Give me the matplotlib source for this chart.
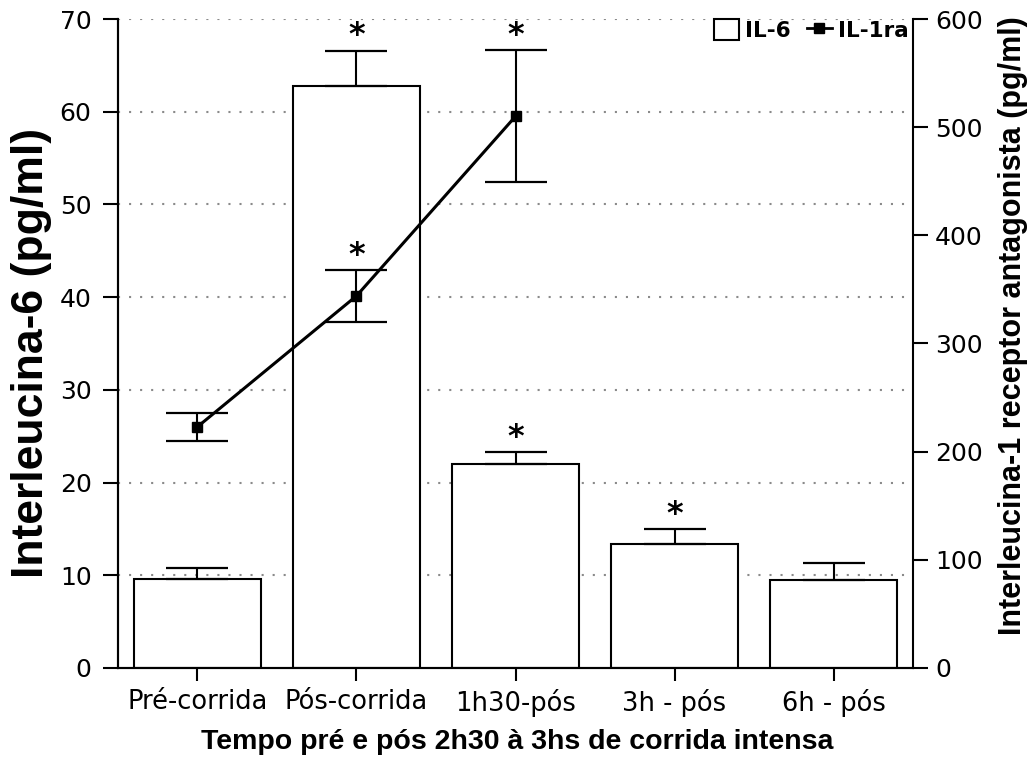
import numpy as np
import matplotlib
matplotlib.use('Agg')
import matplotlib.pyplot as plt
from matplotlib.patches import Patch
from matplotlib.lines import Line2D

categories = ['Pré-corrida', 'Pós-corrida', '1h30-pós', '3h - pós', '6h - pós']
il6 = [9.6, 62.8, 22.0, 13.4, 9.5]
il6_err = [1.2, 3.8, 1.3, 1.6, 1.8]
il6_signif = [False, True, True, True, False]

il1ra = [223, 344, 510]
il1ra_err = [13, 24, 61]
il1ra_signif = [False, True, True]

x = np.arange(len(categories))
x_line = x[:len(il1ra)]

plt.rcParams['font.family'] = 'DejaVu Sans'
fig = plt.figure(figsize=(10.34, 7.57), dpi=100)
ax = fig.add_axes([0.1141, 0.1176, 0.7689, 0.8573])
ax2 = ax.twinx()

# dotted grid on the left scale
for v in range(10, 71, 10):
    ax.axhline(v, color='#8a8a8a', lw=1.5, ls=(0, (1, 4.3)), zorder=0)

ax.bar(x, il6, width=0.8, color='white', edgecolor='black', linewidth=1.5, zorder=2)
ax.errorbar(x, il6, yerr=[np.zeros(len(il6)), il6_err], fmt='none', ecolor='black',
            elinewidth=1.5, capsize=22, capthick=1.6, zorder=3)
for xi, top, s in zip(x, np.array(il6) + np.array(il6_err), il6_signif):
    if s:
        ax.annotate('*', xy=(xi, top), xytext=(0, 4.5), textcoords='offset points',
                    ha='center', va='baseline', fontsize=23, fontweight='bold')

ax2.errorbar(x_line, il1ra, yerr=il1ra_err, fmt='-s', color='black', lw=2.2, ms=7,
             elinewidth=1.5, capsize=22, capthick=1.6)
for xi, top, s in zip(x_line, np.array(il1ra) + np.array(il1ra_err), il1ra_signif):
    if s:
        ax2.annotate('*', xy=(xi, top), xytext=(0, 4.5), textcoords='offset points',
                     ha='center', va='baseline', fontsize=23, fontweight='bold')

ax.set_xlim(-0.5, 4.5)
ax.set_ylim(0, 70)
ax2.set_ylim(0, 600)
ax.set_yticks(range(0, 71, 10))
ax2.set_yticks(range(0, 601, 100))
ax.set_xticks(x)
ax.set_xticklabels(categories, fontsize=18.5)

for a in (ax, ax2):
    a.spines['top'].set_visible(False)
    for sp in a.spines.values():
        sp.set_linewidth(1.5)
ax.spines['right'].set_visible(False)
ax.tick_params(axis='y', direction='out', length=11, width=1.5, pad=8, labelsize=18)
ax.tick_params(axis='x', direction='out', length=9, width=1.5, pad=6)
ax2.tick_params(axis='y', direction='out', length=11, width=1.5, pad=5, labelsize=18)

fig.text(0.0306, 0.5337, 'Interleucina-6 (pg/ml)', rotation=90, ha='center', va='center',
         fontsize=32, fontweight='bold', family='Liberation Sans')
fig.text(0.9797, 0.5694, 'Interleucina-1 receptor antagonista (pg/ml)', rotation=90,
         ha='center', va='center', fontsize=22, fontweight='bold', family='Liberation Sans')
fig.text(0.5, 0.0106, 'Tempo pré e pós 2h30 à 3hs de corrida intensa', ha='center',
         va='baseline', fontsize=20.5, fontweight='bold', family='Liberation Sans')

handles = [Patch(facecolor='white', edgecolor='black', linewidth=1.5),
           Line2D([], [], color='black', lw=2, marker='s', ms=7)]
ax2.legend(handles, ['IL-6', 'IL-1ra'], loc='upper right', bbox_to_anchor=(0.995, 1.0),
           ncol=2, frameon=False, prop={'size': 15.5, 'weight': 'bold'},
           handlelength=1.15, handleheight=1.1, handletextpad=0.3, columnspacing=0.75,
           borderpad=0, borderaxespad=0)

fig.savefig('out.png', dpi=100)
